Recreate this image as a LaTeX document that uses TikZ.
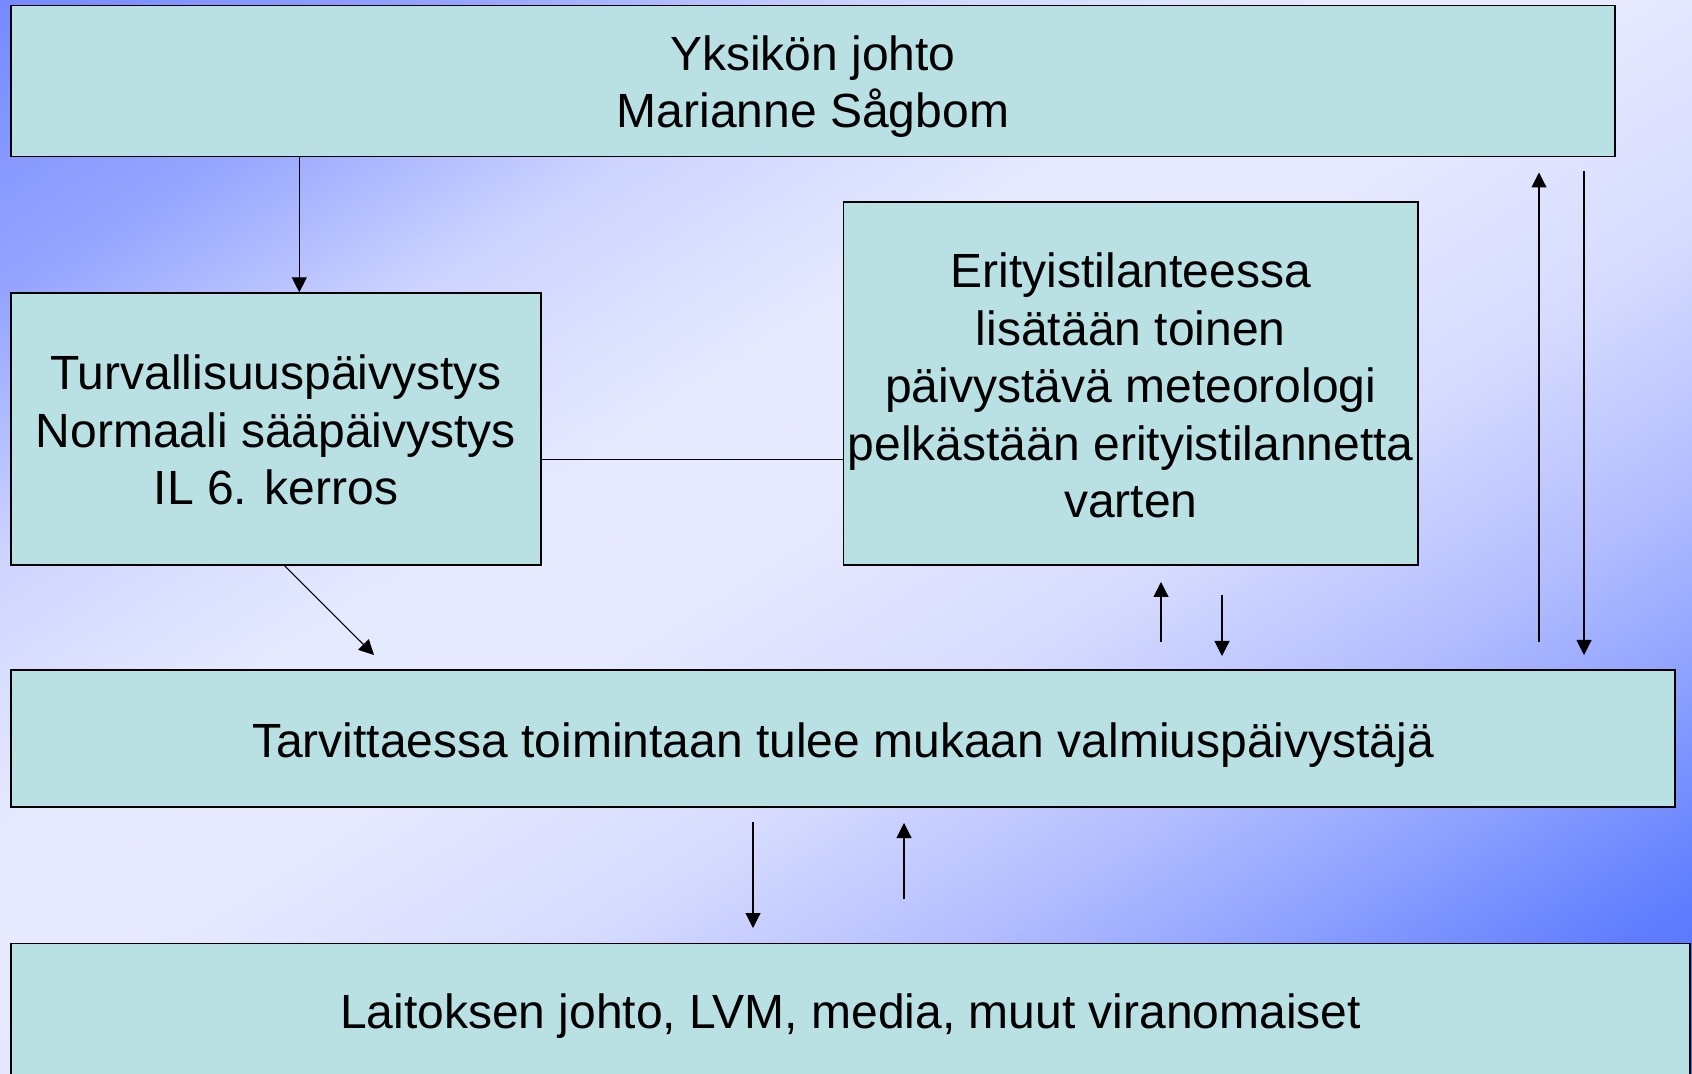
\documentclass[tikz,border=0pt]{standalone}
\usepackage{fontspec}
\setmainfont{Liberation Sans}
\usetikzlibrary{arrows.meta}
\definecolor{boxfill}{RGB}{185,224,227}
\pgfdeclareverticalshading{bgshade}{100bp}{rgb(0bp)=(.333,.451,1); rgb(25bp)=(.333,.451,1); rgb(29.1bp)=(.373,.49,1); rgb(34.2bp)=(.549,.627,1); rgb(38.9bp)=(.706,.745,1); rgb(44.8bp)=(.843,.863,1); rgb(51.4bp)=(.906,.918,1); rgb(55.5bp)=(.902,.918,1); rgb(62.1bp)=(.804,.831,1); rgb(68bp)=(.588,.647,1); rgb(75bp)=(.463,.541,1); rgb(100bp)=(.463,.541,1)}
\begin{document}
\begin{tikzpicture}[x=0.5pt,y=-0.5pt,
  box/.style={draw=black, line width=0.7pt, fill=boxfill, rectangle, inner sep=0pt},
  txt/.style={inner sep=0pt, align=center, font=\fontsize{24pt}{28.7pt}\selectfont},
  arr/.style={line width=0.55pt, -{Triangle[length=7.5pt,width=7.5pt]}},
  ln/.style={line width=0.55pt}]
\useasboundingbox (0,0) rectangle (1692,1074);
\clip (0,0) rectangle (1692,1074);
\begin{scope}[shift={(846,537)}, rotate=32.4, xscale=25, yscale=18.05]
\pgftext{\pgfuseshading{bgshade}}
\end{scope}

\node[box, minimum width=802pt, minimum height=75.5pt] (top) at (813,81) {};
\node[txt] (toptext) at (813,86.3) {Yksikön johto\\Marianne Sågbom};
\node[box, minimum width=265pt, minimum height=136pt] (left) at (276,429) {};
\node[txt] (lefttext) at (276,430) {Turvallisuuspäivystys\\Normaali sääpäivystys\\IL 6. kerros};
\node[box, minimum width=287.25pt, minimum height=181.5pt] (right) at (1130.75,383.5) {};
\node[txt] (righttext) at (1130.75,385.5) {Erityistilanteessa\\lisätään toinen\\päivystävä meteorologi\\pelkästään erityistilannetta\\varten};
\node[box, minimum width=832pt, minimum height=68.5pt] (mid) at (843,738.5) {};
\node[txt] (midtext) at (843,745) {Tarvittaessa toimintaan tulee mukaan valmiuspäivystäjä};
\node[box, minimum width=839.5pt, minimum height=70.5pt] (bot) at (850.5,1014) {};
\node[txt] (bottext) at (850.5,1016) {Laitoksen johto, LVM, media, muut viranomaiset};

\coordinate (c1) at (299.3,0);
\draw[arr] (c1 |- top.south) -- (c1 |- left.north);
\coordinate (c2) at (0,459.3);
\draw[ln] (left.east |- c2) -- (right.west |- c2);
\coordinate (c3) at (284.5,0);
\coordinate (c3e) at (374,655);
\draw[arr] (c3 |- left.south) -- (c3e);

\coordinate (p1) at (1161,642);
\coordinate (p1e) at (1161,582);
\draw[arr] (p1) -- (p1e);
\coordinate (p2) at (1222,595);
\coordinate (p2e) at (1222,656);
\draw[arr] (p2) -- (p2e);

\coordinate (q1) at (1539,642);
\coordinate (q1e) at (1539,172.5);
\draw[arr] (q1) -- (q1e);
\coordinate (q2) at (1584,171.5);
\coordinate (q2e) at (1584,655);
\draw[arr] (q2) -- (q2e);

\coordinate (r1) at (753,822);
\coordinate (r1e) at (753,928);
\draw[arr] (r1) -- (r1e);
\coordinate (r2) at (904,899);
\coordinate (r2e) at (904,823);
\draw[arr] (r2) -- (r2e);
\end{tikzpicture}
\end{document}
